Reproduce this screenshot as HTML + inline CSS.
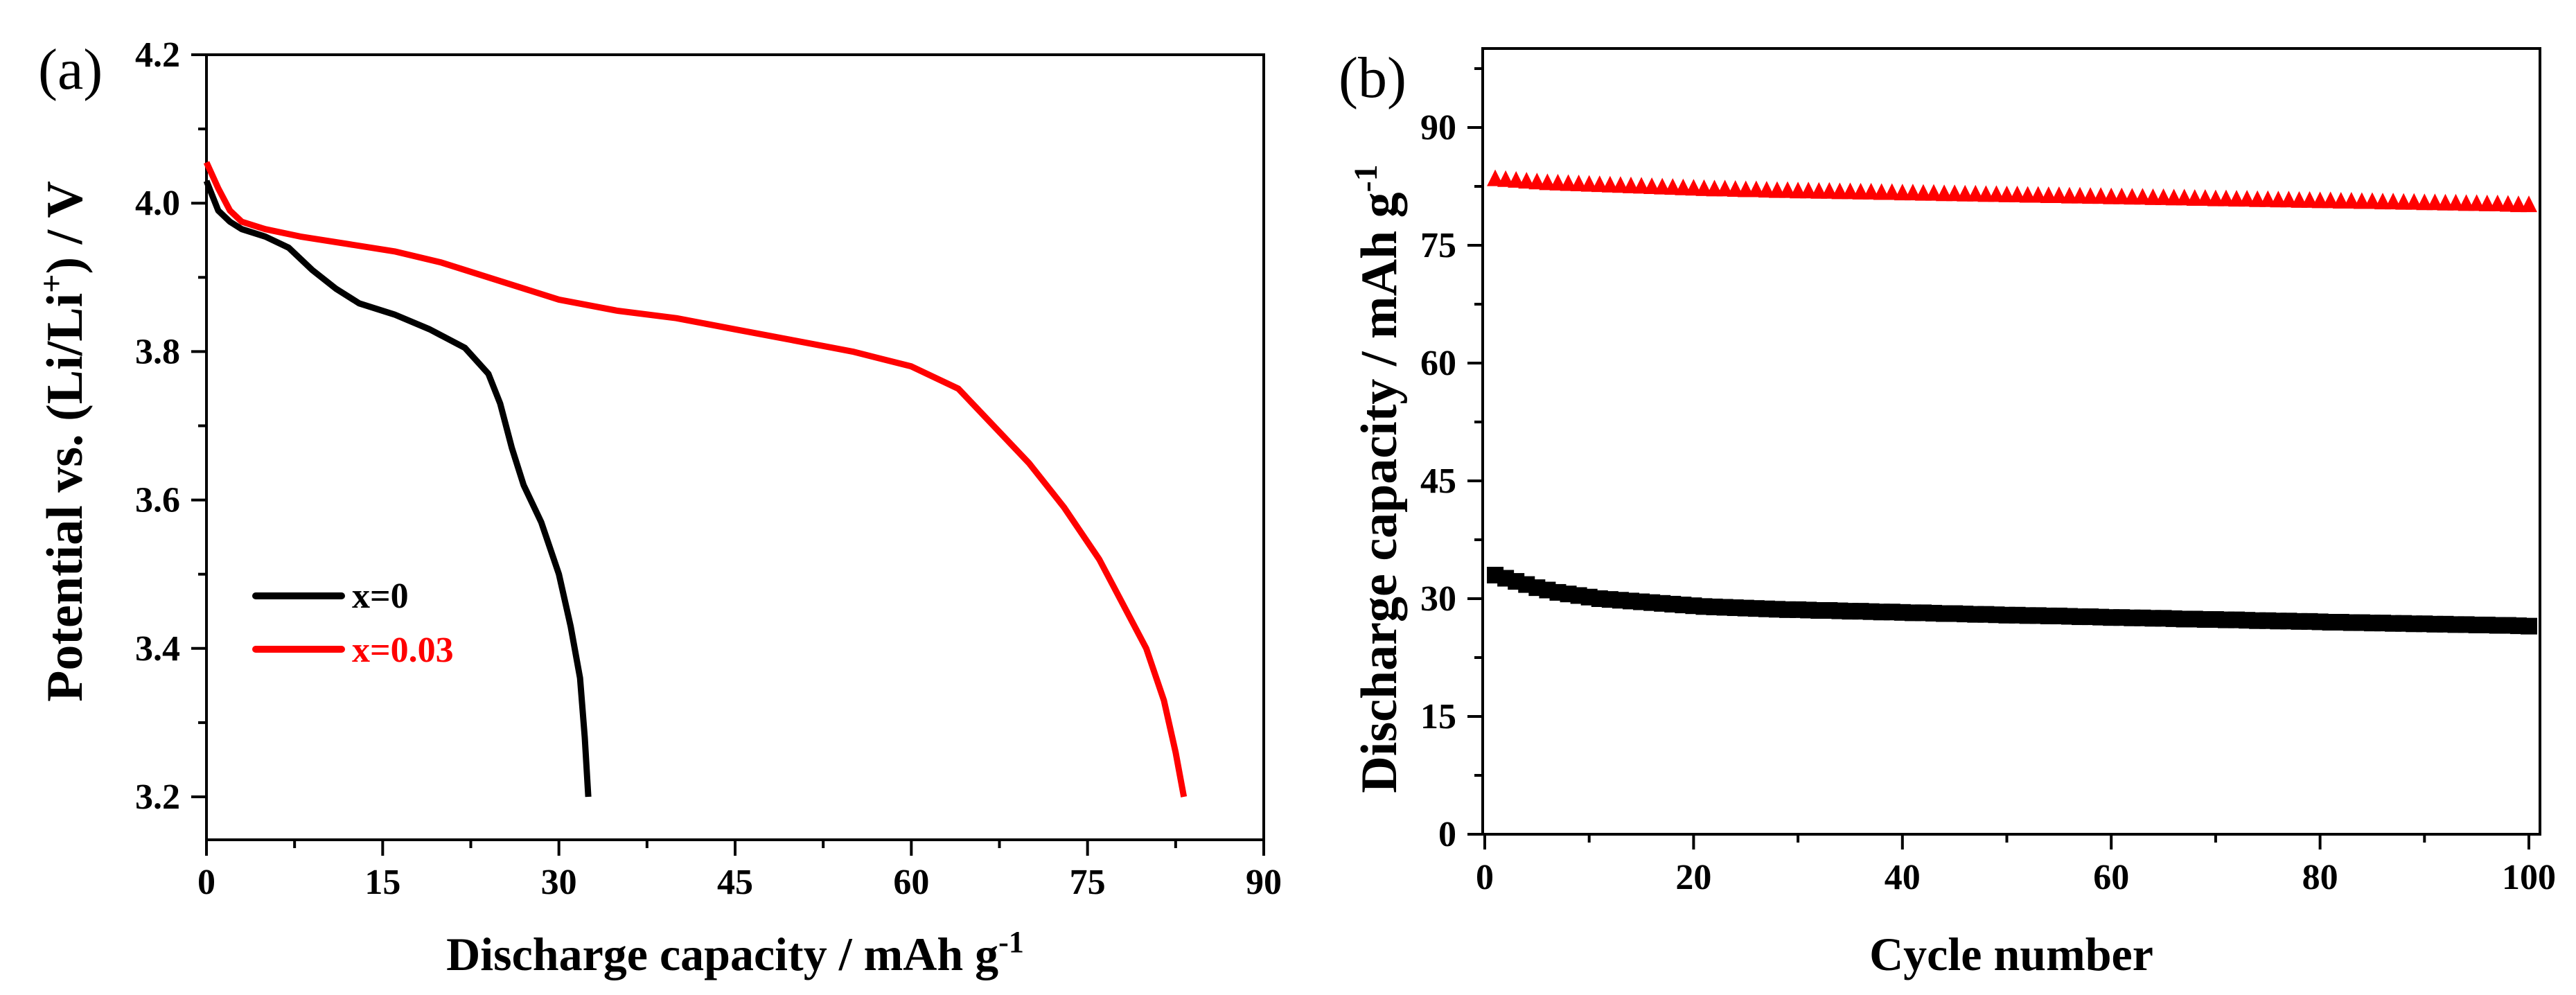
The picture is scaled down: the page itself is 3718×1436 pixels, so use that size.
<!DOCTYPE html>
<html><head><meta charset="utf-8"><style>
html,body{margin:0;padding:0;background:#fff;}
svg{display:block;font-family:"Liberation Serif",serif;}
</style></head><body>
<svg id="fig" width="3718" height="1436" viewBox="0 0 3718 1436" xmlns="http://www.w3.org/2000/svg">
<g id="pa"></g>
<g id="pb"></g>
</svg>
<script>
// Panel (a) data
const capA0 = [0,1,2,3,5,7,9,11,13,16,19,22,24,25,26,27,28.5,30,31,31.8,32.2,32.5];
const volA0 = [4.03,3.99,3.975,3.965,3.955,3.94,3.91,3.885,3.865,3.85,3.83,3.805,3.77,3.73,3.67,3.62,3.57,3.50,3.43,3.36,3.28,3.2];
const capA3 = [0,1,2,3,5,8,12,16,20,25,30,35,40,45,50,55,60,64,67,70,73,76,78,80,81.5,82.5,83.2];
const volA3 = [4.055,4.02,3.99,3.975,3.965,3.955,3.945,3.935,3.92,3.895,3.87,3.855,3.845,3.83,3.815,3.80,3.78,3.75,3.70,3.65,3.59,3.52,3.46,3.40,3.33,3.26,3.2];
const xTicksA = [0,15,30,45,60,75,90];
const yTicksA = [3.2,3.4,3.6,3.8,4.0,4.2];
const xTickLabelsA = ["0","15","30","45","60","75","90"];
const yTickLabelsA = ["3.2","3.4","3.6","3.8","4.0","4.2"];
// Panel (b) data
const cycles = [];
for (let i = 1; i <= 100; i++) cycles.push(i);
const capB0 = [33,32.6,32.2,31.8,31.4,31.1,30.8,30.6,30.4,30.2,30.0,29.9,29.8,29.7,29.6,29.5,29.4,29.3,29.2,29.1,29.0,28.95,28.9,28.85,28.8,28.75,28.7,28.65,28.6,28.6,28.55,28.5,28.5,28.45,28.4,28.4,28.35,28.3,28.3,28.25,28.2,28.2,28.15,28.1,28.1,28.05,28.0,28.0,27.95,27.9,27.9,27.85,27.85,27.8,27.8,27.75,27.7,27.7,27.65,27.6,27.6,27.55,27.55,27.5,27.5,27.45,27.4,27.4,27.35,27.35,27.3,27.3,27.25,27.2,27.2,27.15,27.15,27.1,27.1,27.05,27.0,27.0,26.95,26.95,26.9,26.9,26.85,26.85,26.8,26.8,26.75,26.75,26.7,26.7,26.65,26.65,26.6,26.6,26.55,26.5];
const capB3 = [83.5,83.4,83.3,83.2,83.1,83.0,82.95,82.9,82.85,82.8,82.75,82.7,82.65,82.6,82.55,82.5,82.45,82.4,82.35,82.3,82.25,82.2,82.2,82.15,82.1,82.1,82.05,82.0,82.0,81.95,81.95,81.9,81.9,81.85,81.85,81.8,81.8,81.75,81.75,81.7,81.7,81.65,81.65,81.6,81.6,81.55,81.55,81.5,81.5,81.45,81.45,81.4,81.4,81.35,81.35,81.3,81.3,81.25,81.25,81.2,81.2,81.15,81.15,81.1,81.1,81.05,81.05,81.0,81.0,80.95,80.95,80.9,80.9,80.85,80.85,80.8,80.8,80.75,80.75,80.7,80.7,80.65,80.65,80.6,80.6,80.55,80.55,80.5,80.5,80.45,80.45,80.4,80.4,80.35,80.35,80.3,80.3,80.25,80.2,80.2];
const xTicksB = [0,20,40,60,80,100];
const yTicksB = [0,15,30,45,60,75,90];
const xTickLabelsB = ["0","20","40","60","80","100"];
const yTickLabelsB = ["0","15","30","45","60","75","90"];

const NS = "http://www.w3.org/2000/svg";
function mk(parent, tag, attrs, text) {
  const e = document.createElementNS(NS, tag);
  for (const k in attrs) e.setAttribute(k, attrs[k]);
  if (text !== undefined) e.textContent = text;
  parent.appendChild(e);
  return e;
}
function lin(d0, d1, r0, r1) { return v => r0 + (v - d0) * (r1 - r0) / (d1 - d0); }

// ---------- Panel A ----------
const pa = document.getElementById('pa');
const xa = lin(0, 90, 298, 1824);
const ya = lin(3.2, 4.2, 1150, 79);
const A = {l:298, r:1824, t:79, b:1212};
let el;
el = mk(pa, 'rect', {x:A.l, y:A.t, width:A.r-A.l, height:A.b-A.t, fill:'none', stroke:'#000', 'stroke-width':4});


xTicksA.forEach((v, i) => {
  const x = xa(v);
  el = mk(pa, 'line', {x1:x, x2:x, y1:A.b, y2:A.b+23, stroke:'#000', 'stroke-width':4});
  
  
  if (i < xTicksA.length - 1) {
    const xm = xa(v + 7.5);
    el = mk(pa, 'line', {x1:xm, x2:xm, y1:A.b, y2:A.b+12, stroke:'#000', 'stroke-width':4});
    
    
  }
  el = mk(pa, 'text', {x:x, y:1290, 'font-size':52, 'font-weight':'bold', 'text-anchor':'middle'}, xTickLabelsA[i]);
  
  
});
yTicksA.forEach((v, i) => {
  const y = ya(v);
  el = mk(pa, 'line', {x1:A.l-22, x2:A.l, y1:y, y2:y, stroke:'#000', 'stroke-width':4});
  
  
  if (i < yTicksA.length - 1) {
    const ym = ya(v + 0.1);
    el = mk(pa, 'line', {x1:A.l-12, x2:A.l, y1:ym, y2:ym, stroke:'#000', 'stroke-width':4});
    
    
  }
  el = mk(pa, 'text', {x:260, y:y+17, 'font-size':52, 'font-weight':'bold', 'text-anchor':'end'}, yTickLabelsA[i]);
  
  
});
function pathD(xs, ys, fx, fy) { return xs.map((v, i) => (i ? 'L' : 'M') + fx(v).toFixed(1) + ',' + fy(ys[i]).toFixed(1)).join(' '); }
el = mk(pa, 'path', {d:pathD(capA0, volA0, xa, ya), fill:'none', stroke:'#000', 'stroke-width':9, 'stroke-linejoin':'round'});


el = mk(pa, 'path', {d:pathD(capA3, volA3, xa, ya), fill:'none', stroke:'#ff0000', 'stroke-width':9, 'stroke-linejoin':'round'});


// legend
el = mk(pa, 'line', {x1:369, x2:493, y1:860, y2:860, stroke:'#000', 'stroke-width':10, 'stroke-linecap':'round'});


el = mk(pa, 'text', {x:508, y:877, 'font-size':52, 'font-weight':'bold'}, 'x=0');


el = mk(pa, 'line', {x1:369, x2:493, y1:937, y2:937, stroke:'#ff0000', 'stroke-width':10, 'stroke-linecap':'round'});


el = mk(pa, 'text', {x:508, y:955, 'font-size':52, 'font-weight':'bold', fill:'#ff0000'}, 'x=0.03');


// titles
el = mk(pa, 'text', {x:1061, y:1400, 'font-size':68, 'font-weight':'bold', 'text-anchor':'middle'});


el.innerHTML = 'Discharge capacity / mAh g<tspan dy="-26" font-size="44">-1</tspan>';
el = mk(pa, 'text', {transform:'translate(118,637) rotate(-90)', 'font-size':74, 'font-weight':'bold', 'text-anchor':'middle'});


el.innerHTML = 'Potential vs. (Li/Li<tspan dy="-28" font-size="48">+</tspan><tspan dy="28">) / V</tspan>';
el = mk(pa, 'text', {x:55, y:128, 'font-size':84}, '(a)');



// ---------- Panel B ----------
const pb = document.getElementById('pb');
const xb = lin(0, 100, 2143, 3650);
const yb = lin(0, 90, 1204, 184);
const B = {l:2140, r:3666, t:70, b:1204};
el = mk(pb, 'rect', {x:B.l, y:B.t, width:B.r-B.l, height:B.b-B.t, fill:'none', stroke:'#000', 'stroke-width':4});


el = mk(pb, 'line', {x1:B.l-22, x2:B.l, y1:B.b, y2:B.b, stroke:'#000', 'stroke-width':4});


xTicksB.forEach((v, i) => {
  const x = xb(v);
  el = mk(pb, 'line', {x1:x, x2:x, y1:B.b, y2:B.b+22, stroke:'#000', 'stroke-width':4});
  
  
  if (i < xTicksB.length - 1) {
    const xm = xb(v + 10);
    el = mk(pb, 'line', {x1:xm, x2:xm, y1:B.b, y2:B.b+12, stroke:'#000', 'stroke-width':4});
    
    
  }
  el = mk(pb, 'text', {x:x, y:1283, 'font-size':52, 'font-weight':'bold', 'text-anchor':'middle'}, xTickLabelsB[i]);
  
  
});
yTicksB.forEach((v, i) => {
  const y = yb(v);
  el = mk(pb, 'line', {x1:B.l-22, x2:B.l, y1:y, y2:y, stroke:'#000', 'stroke-width':4});
  
  
  const ym = yb(v + 7.5);
  el = mk(pb, 'line', {x1:B.l-12, x2:B.l, y1:ym, y2:ym, stroke:'#000', 'stroke-width':4});
  
  
  el = mk(pb, 'text', {x:2102, y:y+17, 'font-size':52, 'font-weight':'bold', 'text-anchor':'end'}, yTickLabelsB[i]);
  
  
});
cycles.forEach((c, i) => {
  const x = xb(c), y = yb(capB0[i]);
  el = mk(pb, 'rect', {x:x-12, y:y-12, width:24, height:24, fill:'#000'});
  
  
});
cycles.forEach((c, i) => {
  const x = xb(c), y = yb(capB3[i]);
  el = mk(pb, 'polygon', {points:(x-12)+','+(y+11)+' '+(x+12)+','+(y+11)+' '+x+','+(y-13), fill:'#ff0000'});
  
  
});
el = mk(pb, 'text', {x:2903, y:1400, 'font-size':68, 'font-weight':'bold', 'text-anchor':'middle'}, 'Cycle number');


el = mk(pb, 'text', {transform:'translate(2015,691) rotate(-90)', 'font-size':74, 'font-weight':'bold', 'text-anchor':'middle'});


el.innerHTML = 'Discharge capacity / mAh g<tspan dy="-28" font-size="48">-1</tspan>';
el = mk(pb, 'text', {x:1932, y:140, 'font-size':84}, '(b)');


</script>
</body></html>
